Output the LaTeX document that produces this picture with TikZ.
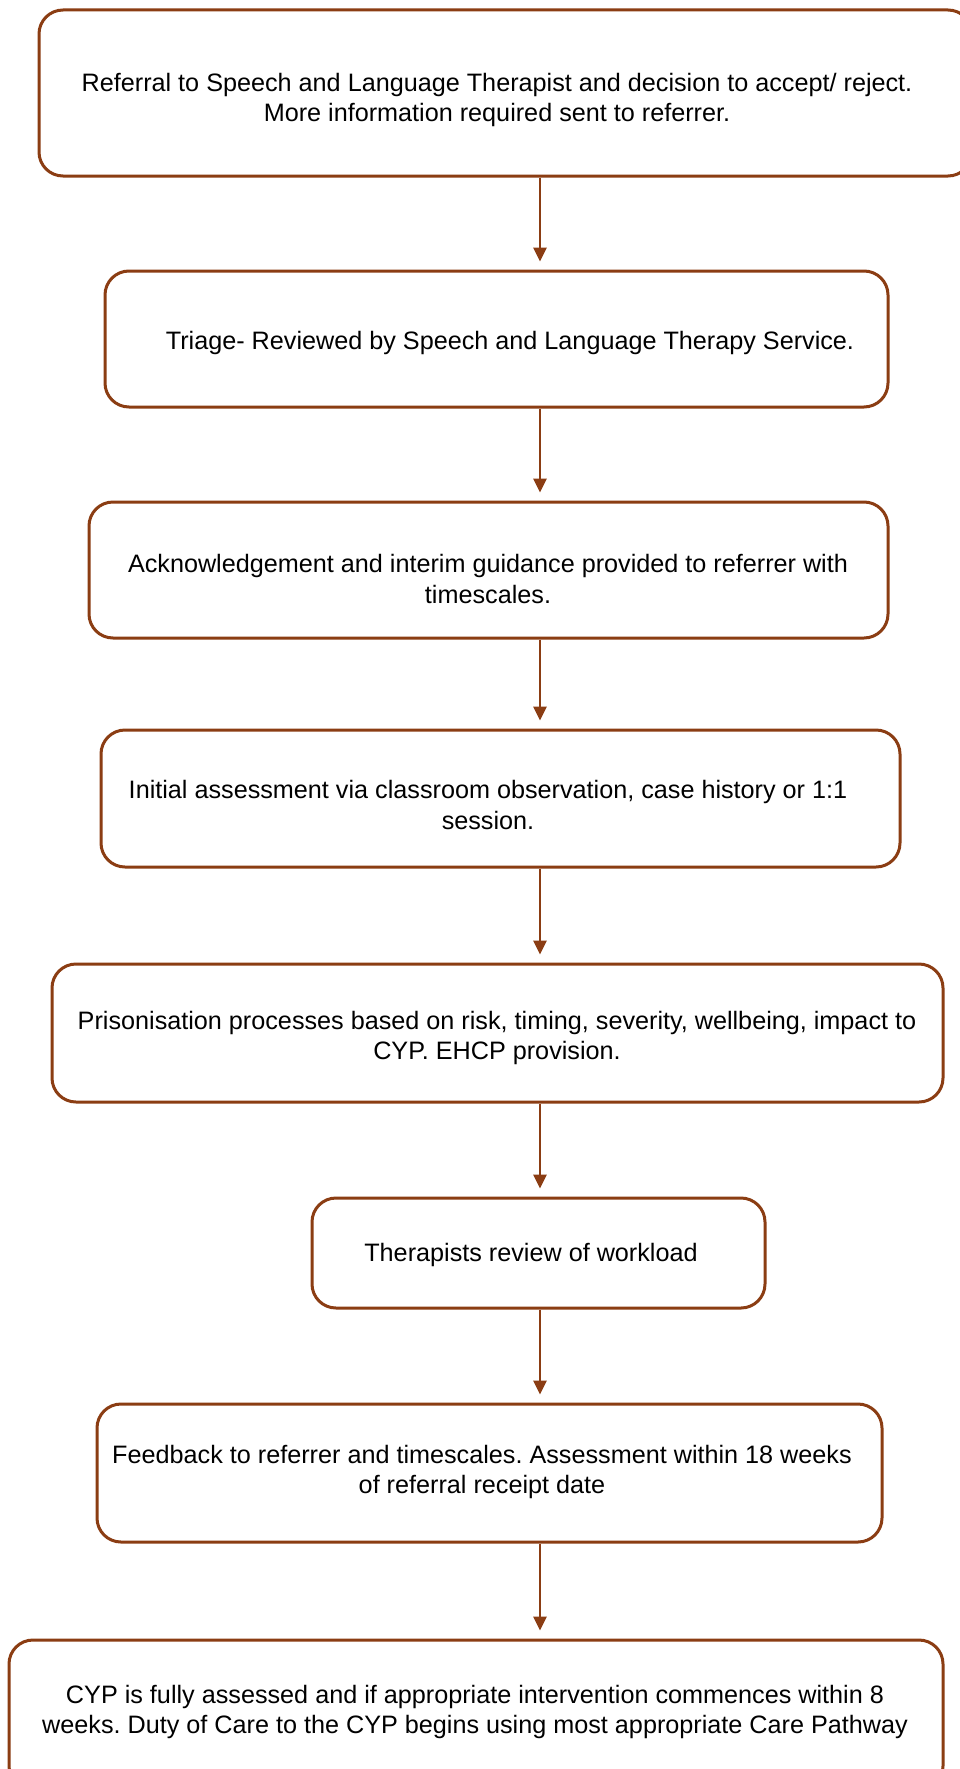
\documentclass[tikz,border=0pt]{standalone}
\usepackage{fontspec}
\setmainfont{Liberation Sans}
\usetikzlibrary{arrows.meta}
\definecolor{rust}{RGB}{139,61,19}
\tikzset{
  stage/.style={draw=rust, line width=3pt, rounded corners=24pt, fill=white,
    rectangle, inner sep=0pt, anchor=center},
  label/.style={align=center, inner sep=0pt, font=\fontsize{25.2}{30.5}\selectfont\frenchspacing, text=black},
  flow/.style={draw=rust, line width=2.6pt, shorten >=8pt,
    -{Triangle[length=14pt,width=13pt]}}
}
\begin{document}
\begin{tikzpicture}[x=1pt,y=1pt]
  \clip (0,0) rectangle (960,-1769);
  \fill[white] (0,0) rectangle (960,-1769);

  % process boxes (centre, size)
  \node[stage, minimum width=933pt, minimum height=166pt] (b1) at (505.5,-93) {};
  \node[stage, minimum width=783pt, minimum height=136pt] (b2) at (496.5,-339) {};
  \node[stage, minimum width=799pt, minimum height=136pt] (b3) at (488.5,-570) {};
  \node[stage, minimum width=799pt, minimum height=137pt] (b4) at (500.5,-798.5) {};
  \node[stage, minimum width=891pt, minimum height=138pt] (b5) at (497.5,-1033) {};
  \node[stage, minimum width=453pt, minimum height=110pt] (b6) at (538.5,-1253) {};
  \node[stage, minimum width=785pt, minimum height=138pt] (b7) at (489.5,-1473) {};
  \node[stage, minimum width=934pt, minimum height=150pt] (b8) at (476,-1715) {};

  % box texts
  \node[label] (t1) at (497,-100) {Referral to Speech and Language Therapist and decision to accept/ reject.\\More information required sent to referrer.};
  \node[label] (t2) at (510,-343) {Triage- Reviewed by Speech and Language Therapy Service.};
  \node[label] (t3) at (488,-579) {Acknowledgement and interim guidance provided to referrer with\\timescales.};
  \node[label] (t4) at (488,-805) {Initial assessment via classroom observation, case history or 1:1\\session.};
  \node[label] (t5) at (497,-1038) {Prisonisation processes based on risk, timing, severity, wellbeing, impact to\\CYP. EHCP provision.};
  \node[label] (t6) at (531,-1255) {Therapists review of workload};
  \node[label] (t7) at (482,-1472) {Feedback to referrer and timescales. Assessment within 18 weeks\\of referral receipt date};
  \node[label] (t8) at (475,-1712) {CYP is fully assessed and if appropriate intervention commences within 8\\weeks. Duty of Care to the CYP begins using most appropriate Care Pathway};

  % vertical flow axis
  \coordinate (ax) at (540,0);
  \draw[flow] (b1.south -| ax) -- (b2.north -| ax);
  \draw[flow] (b2.south -| ax) -- (b3.north -| ax);
  \draw[flow] (b3.south -| ax) -- (b4.north -| ax);
  \draw[flow] (b4.south -| ax) -- (b5.north -| ax);
  \draw[flow] (b5.south -| ax) -- (b6.north -| ax);
  \draw[flow] (b6.south -| ax) -- (b7.north -| ax);
  \draw[flow] (b7.south -| ax) -- (b8.north -| ax);
\end{tikzpicture}
\end{document}
